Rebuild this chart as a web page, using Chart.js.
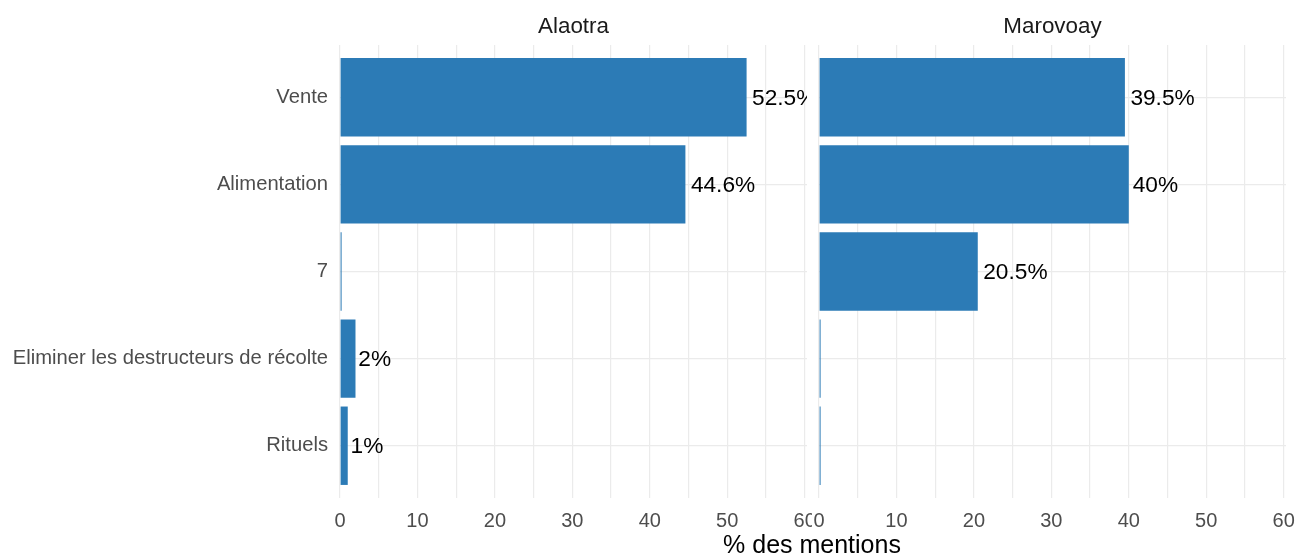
<!DOCTYPE html>
<html>
<head>
<meta charset="utf-8">
<script src="https://cdn.jsdelivr.net/npm/chart.js@4.4.1/dist/chart.umd.min.js"></script>
<style>
  body { margin: 0; background: #fff; }
  #wrap { position: relative; width: 1297px; height: 554px; overflow: hidden; }
  #c1 { position: absolute; left: 0; top: 0; }
  #c2 { position: absolute; left: 812px; top: 0; }
  #xtitle {
    position: absolute; left: 612px; width: 400px; top: 530px;
    text-align: center; font: 25px 'Liberation Sans', Arial, sans-serif;
    color: #000; line-height: 28px;
  }
</style>
</head>
<body>
<div id="wrap">
  <canvas id="c1" width="812" height="554"></canvas>
  <canvas id="c2" width="485" height="554"></canvas>
  <div id="xtitle">% des mentions</div>
</div>
<script>
// Données
const categories = ['Vente', 'Alimentation', '7', 'Eliminer les destructeurs de récolte', 'Rituels'];
const panels = ['Alaotra', 'Marovoay'];
const alaotraValues = [52.5, 44.6, 0, 2, 1];
const marovoayValues = [39.5, 40, 20.5, 0, 0];
const xTickValues = [0, 5, 10, 15, 20, 25, 30, 35, 40, 45, 50, 55, 60];

const FONT = "'Liberation Sans', Arial, sans-serif";
const BAR_COLOR = '#2C7BB6';
const GRID_COLOR = '#ebebeb';

// Titre du panneau (strip) centré sur la zone du graphique
const stripPlugin = {
    id: 'strip',
    afterDraw(chart, args, opts) {
        const { ctx, chartArea } = chart;
        ctx.save();
        ctx.font = '22.4px ' + FONT;
        ctx.fillStyle = '#1a1a1a';
        ctx.textAlign = 'center';
        ctx.textBaseline = 'alphabetic';
        ctx.fillText(opts.text, (chartArea.left + chartArea.right) / 2, 33);
        ctx.restore();
    }
};

// Étiquettes des barres, coupées au bord du panneau
const barLabelPlugin = {
    id: 'barLabels',
    afterDatasetsDraw(chart) {
        const { ctx, chartArea } = chart;
        const meta = chart.getDatasetMeta(0);
        const values = chart.data.datasets[0].data.map(d => d.x);
        ctx.save();
        ctx.beginPath();
        ctx.rect(chartArea.left, chartArea.top, chartArea.right - chartArea.left, chartArea.bottom - chartArea.top);
        ctx.clip();
        ctx.font = '22.7px ' + FONT;
        ctx.fillStyle = '#000';
        ctx.textBaseline = 'middle';
        meta.data.forEach((bar, i) => {
            const v = values[i];
            if (!v) return;
            const txt = String(v) + '%';
            const w = ctx.measureText(txt).width;
            ctx.fillText(txt, bar.x + w * 0.085, bar.y + 1);
        });
        ctx.restore();
    }
};

function makeChart(canvasId, panelName, values, showY) {
    const ctx = document.getElementById(canvasId).getContext('2d');
    return new Chart(ctx, {
        type: 'bar',
        data: {
            datasets: [{
                data: values.map((v, i) => ({ x: v, y: i })),
                backgroundColor: BAR_COLOR,
                borderWidth: 0,
                barPercentage: 0.9,
                categoryPercentage: 1,
                minBarLength: 1.6
            }]
        },
        options: {
            indexAxis: 'y',
            responsive: false,
            animation: false,
            layout: {
                padding: showY ? { top: 45, right: 5, left: 0, bottom: 0 }
                               : { top: 45, right: 11, left: 7, bottom: 0 }
            },
            plugins: {
                legend: { display: false },
                tooltip: { enabled: false },
                strip: { text: panelName }
            },
            scales: {
                x: {
                    type: 'linear',
                    min: 0,
                    max: 60.3,
                    afterBuildTicks: s => { s.ticks = xTickValues.map(v => ({ value: v })); },
                    afterFit: s => {
                        s.height = 56;
                        s.paddingLeft = 0;
                        s.paddingRight = 0;
                    },
                    border: { display: false },
                    grid: { color: GRID_COLOR, lineWidth: 1.2, drawTicks: false },
                    ticks: {
                        autoSkip: false,
                        maxRotation: 0,
                        padding: 11,
                        color: '#4d4d4d',
                        font: { family: FONT, size: 20 },
                        callback: v => (v % 10 === 0 ? String(v) : '')
                    }
                },
                y: {
                    type: 'linear',
                    reverse: true,
                    offset: false,
                    min: -0.6,
                    max: 4.6,
                    afterBuildTicks: s => { s.ticks = categories.map((c, i) => ({ value: i })); },
                    afterFit: s => {
                        s.width = showY ? 340 : 0;
                        s.paddingTop = 0;
                        s.paddingBottom = 0;
                    },
                    border: { display: false },
                    grid: { color: GRID_COLOR, lineWidth: 1.2, drawTicks: false, offset: false },
                    ticks: {
                        display: showY,
                        autoSkip: false,
                        padding: 12,
                        color: '#4d4d4d',
                        font: { family: FONT, size: 20.2 },
                        callback: v => categories[v]
                    }
                }
            }
        },
        plugins: [stripPlugin, barLabelPlugin]
    });
}

makeChart('c1', panels[0], alaotraValues, true);
makeChart('c2', panels[1], marovoayValues, false);
</script>
</body>
</html>
